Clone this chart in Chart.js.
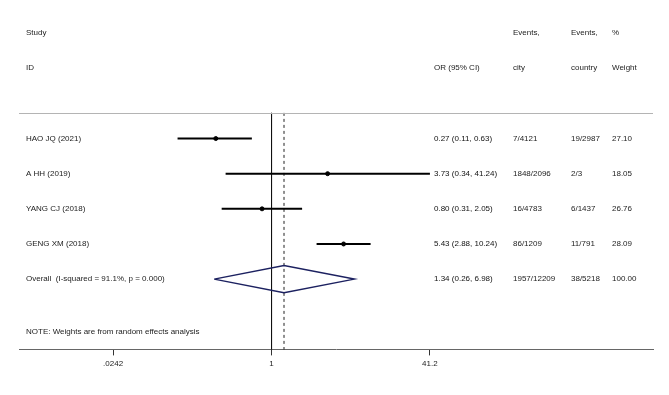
<!DOCTYPE html>
<html>
<head>
<meta charset="utf-8">
<script src="https://cdn.jsdelivr.net/npm/chart.js@4.4.1/dist/chart.umd.min.js"></script>
<style>
  html, body { margin: 0; padding: 0; background: #fff; }
  #wrap { width: 669px; height: 395px; }
</style>
</head>
<body>
<div id="wrap"><canvas id="myChart" width="669" height="395"></canvas></div>
<script>
// study data
const studies = ['HAO JQ (2021)', 'A HH (2019)', 'YANG CJ (2018)', 'GENG XM (2018)'];
const oddsRatio = [0.27, 3.73, 0.80, 5.43];
const ciLow = [0.11, 0.34, 0.31, 2.88];
const ciHigh = [0.63, 41.24, 2.05, 10.24];
const eventsCity = ['7/4121', '1848/2096', '16/4783', '86/1209'];
const eventsCountry = ['19/2987', '2/3', '6/1437', '11/791'];
const weights = ['27.10', '18.05', '26.76', '28.09'];

const overallLabel = 'Overall  (I-squared = 91.1%, p = 0.000)';
const overallOR = 1.34;
const overallLow = 0.26;
const overallHigh = 6.98;
const overallCity = '1957/12209';
const overallCountry = '38/5218';
const overallWeight = '100.00';

const tickValues = [0.0242, 1, 41.2];
const tickLabels = ['.0242', '1', '41.2'];

const noteText = 'NOTE: Weights are from random effects analysis';

function fmt(v) { return v.toFixed(2); }

// rows: 1..4 studies, 5 overall
const rowOf = i => i + 1;
const overallRow = studies.length + 1;
const topRule = 0.27;
const bottomRow = 7.0;

const datasets = [];

// confidence intervals
studies.forEach((s, i) => {
    datasets.push({
        type: 'line',
        data: [{ x: ciLow[i], y: rowOf(i) }, { x: ciHigh[i], y: rowOf(i) }],
        borderColor: '#000',
        borderWidth: 2,
        pointRadius: 0
    });
});

// point estimates
datasets.push({
    type: 'scatter',
    data: oddsRatio.map((v, i) => ({ x: v, y: rowOf(i) })),
    backgroundColor: '#000',
    borderColor: '#000',
    pointRadius: 2,
    pointStyle: 'circle'
});

// overall diamond
datasets.push({
    type: 'line',
    data: [
        { x: overallLow, y: overallRow },
        { x: overallOR, y: overallRow - 0.39 },
        { x: overallHigh, y: overallRow },
        { x: overallOR, y: overallRow + 0.39 },
        { x: overallLow, y: overallRow }
    ],
    borderColor: '#1c2160',
    borderWidth: 1.5,
    pointRadius: 0,
    tension: 0
});

// line of no effect
datasets.push({
    type: 'line',
    data: [{ x: 1, y: topRule }, { x: 1, y: bottomRow }],
    borderColor: '#111',
    borderWidth: 1,
    pointRadius: 0
});

// overall estimate dashed line
datasets.push({
    type: 'line',
    data: [{ x: overallOR, y: topRule }, { x: overallOR, y: bottomRow }],
    borderColor: '#222',
    borderWidth: 1,
    borderDash: [3, 3],
    pointRadius: 0
});

const FONT = '8px "Liberation Sans", Arial, sans-serif';

const tablePlugin = {
    id: 'forestTable',
    afterDatasetsDraw(chart) {
        const ctx = chart.ctx;
        const ys = chart.scales.y;
        const area = chart.chartArea;
        ctx.save();

        // top rule
        const ry = Math.round(ys.getPixelForValue(topRule)) + 0.5;
        ctx.strokeStyle = '#b4b4b4';
        ctx.lineWidth = 1;
        ctx.beginPath();
        ctx.moveTo(area.left, ry);
        ctx.lineTo(area.right, ry);
        ctx.stroke();

        ctx.font = FONT;
        ctx.fillStyle = '#222';
        ctx.textBaseline = 'middle';
        ctx.textAlign = 'left';

        const colStudy = 26, colOR = 434, colCity = 513, colCountry = 571, colWeight = 612;

        const h1 = ys.getPixelForValue(-2);
        const h2 = ys.getPixelForValue(-1);
        ctx.fillText('Study', colStudy, h1);
        ctx.fillText('ID', colStudy, h2);
        ctx.fillText('OR (95% CI)', colOR, h2);
        ctx.fillText('Events,', colCity, h1);
        ctx.fillText('city', colCity, h2);
        ctx.fillText('Events,', colCountry, h1);
        ctx.fillText('country', colCountry, h2);
        ctx.fillText('%', colWeight, h1);
        ctx.fillText('Weight', colWeight, h2);

        studies.forEach((s, i) => {
            const y = ys.getPixelForValue(rowOf(i));
            ctx.fillStyle = '#222';
            ctx.fillText(s, colStudy, y);
            ctx.fillStyle = '#111';
            ctx.fillText(fmt(oddsRatio[i]) + ' (' + fmt(ciLow[i]) + ', ' + fmt(ciHigh[i]) + ')', colOR, y);
            ctx.fillStyle = '#222';
            ctx.fillText(eventsCity[i], colCity, y);
            ctx.fillText(eventsCountry[i], colCountry, y);
            ctx.fillText(weights[i], colWeight, y);
        });

        const oy = ys.getPixelForValue(overallRow);
        ctx.fillText(overallLabel, colStudy, oy);
        ctx.fillStyle = '#111';
        ctx.fillText(fmt(overallOR) + ' (' + fmt(overallLow) + ', ' + fmt(overallHigh) + ')', colOR, oy);
        ctx.fillStyle = '#222';
        ctx.fillText(overallCity, colCity, oy);
        ctx.fillText(overallCountry, colCountry, oy);
        ctx.fillText(overallWeight, colWeight, oy);

        ctx.fillText(noteText, colStudy, ys.getPixelForValue(6.5));
        ctx.restore();
    }
};

const ctx = document.getElementById('myChart').getContext('2d');
const myChart = new Chart(ctx, {
    type: 'line',
    data: { datasets: datasets },
    options: {
        responsive: false,
        animation: false,
        layout: { padding: { left: 19, right: 16, top: 0, bottom: 22 } },
        plugins: { legend: { display: false }, tooltip: { enabled: false } },
        scales: {
            x: {
                type: 'logarithmic',
                min: 0.002656,
                max: 7774,
                afterBuildTicks: scale => {
                    scale.ticks = tickValues.map(v => ({ value: v }));
                },
                ticks: {
                    autoSkip: false,
                    maxRotation: 0,
                    padding: 4,
                    color: '#222',
                    font: { family: '"Liberation Sans", Arial, sans-serif', size: 8 },
                    callback: (value) => {
                        const idx = tickValues.indexOf(value);
                        return idx >= 0 ? tickLabels[idx] : '';
                    }
                },
                grid: {
                    drawOnChartArea: false,
                    drawTicks: true,
                    tickLength: 6,
                    color: '#333'
                },
                border: { display: true, color: '#666', width: 1 }
            },
            y: {
                type: 'linear',
                reverse: true,
                min: -2.8,
                max: bottomRow,
                display: false
            }
        },
        elements: { line: { fill: false } },
        datasets: { line: { clip: false }, scatter: { clip: false } }
    },
    plugins: [tablePlugin]
});
</script>
</body>
</html>
